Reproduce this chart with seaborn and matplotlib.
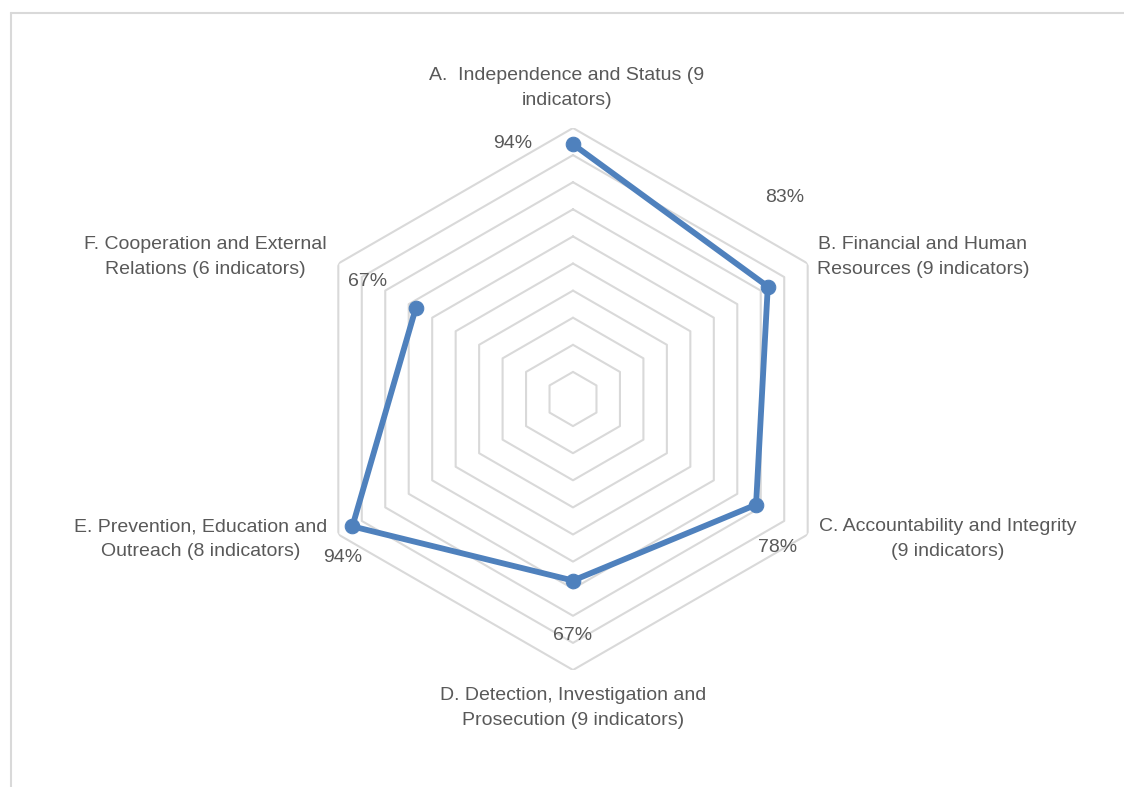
import numpy as np
import matplotlib
matplotlib.use("Agg")
import matplotlib.pyplot as plt
import seaborn as sns
from matplotlib.lines import Line2D

# --- data ---
categories = [
    "A.  Independence and Status (9\nindicators)",
    "B. Financial and Human\nResources (9 indicators)",
    "C. Accountability and Integrity\n(9 indicators)",
    "D. Detection, Investigation and\nProsecution (9 indicators)",
    "E. Prevention, Education and\nOutreach (8 indicators)",
    "F. Cooperation and External\nRelations (6 indicators)",
]
scores = [0.94, 0.83, 0.78, 0.67, 0.94, 0.67]
ring_levels = [0.1, 0.2, 0.3, 0.4, 0.5, 0.6, 0.7, 0.8, 0.9, 1.0]

# --- layout (pixel positions in the 1124x787 canvas) ---
W, H = 1124, 787
center_px = (573, 399)
radius_px = 271
cat_pos = [(567, 88), (923, 257), (948, 539), (573, 708), (201, 539), (205, 257)]
val_pos = [(513, 143), (785, 198), (778, 548), (573, 635), (343, 557), (368, 282)]

sns.set_style("white")
plt.rcParams["font.family"] = ["Liberation Sans", "DejaVu Sans"]

text_color = "#595959"
grid_color = "#D9D9D9"
line_color = "#4F81BD"
fsize = 14

fig = plt.figure(figsize=(W / 100, H / 100), dpi=100)

rx = radius_px / W
ry = radius_px / H
cx = center_px[0] / W
cy = 1 - center_px[1] / H
ax = fig.add_axes([cx - rx, cy - ry, 2 * rx, 2 * ry], projection="polar")
ax.set_theta_zero_location("N")
ax.set_theta_direction(-1)

n = len(categories)
angles = np.linspace(0, 2 * np.pi, n, endpoint=False)
closed_angles = np.append(angles, angles[0])

# hexagonal rings
for r in ring_levels:
    ax.plot(closed_angles, [r] * (n + 1), color=grid_color, lw=1.5, zorder=1)

# data series
closed_scores = scores + [scores[0]]
sns.lineplot(x=closed_angles, y=closed_scores, ax=ax, sort=False,
             color=line_color, lw=4.2, marker="o", markersize=10.5,
             markeredgecolor=line_color, zorder=3)

ax.set_ylim(0, 1)
ax.set_xticks([])
ax.set_yticks([])
ax.grid(False)
ax.spines["polar"].set_visible(False)
ax.set_facecolor("none")

# category labels
for label, (px, py) in zip(categories, cat_pos):
    fig.text(px / W, 1 - py / H, label, ha="center", va="center",
             fontsize=fsize, color=text_color, linespacing=1.6)

# value labels
for v, (px, py) in zip(scores, val_pos):
    fig.text(px / W, 1 - py / H, f"{v:.0%}", ha="center", va="center",
             fontsize=fsize, color=text_color)

# chart frame (top and left edges visible)
fig.add_artist(Line2D([10.5 / W, 1], [1 - 12.5 / H, 1 - 12.5 / H],
                      transform=fig.transFigure, color=grid_color, lw=1.5))
fig.add_artist(Line2D([10.5 / W, 10.5 / W], [0, 1 - 12.5 / H],
                      transform=fig.transFigure, color=grid_color, lw=1.5))

fig.savefig("out.png", dpi=100)
